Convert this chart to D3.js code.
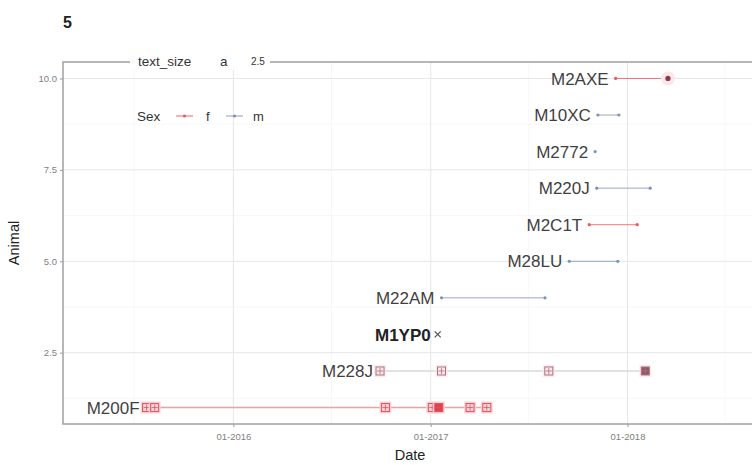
<!DOCTYPE html>
<html><head><meta charset="utf-8">
<script src="https://cdn.jsdelivr.net/npm/d3@7"></script>
<style>body{margin:0;background:#fff}svg{font-family:"Liberation Sans",Arial,sans-serif}</style>
</head><body><svg id="c" width="752" height="465"></svg>
<script>
// Animals (y position 1..10), sex, and observation dates
const animals = ["M200F","M228J","M1YP0","M22AM","M28LU","M2C1T","M220J","M2772","M10XC","M2AXE"];
const sexes   = ["f","f","m","m","m","f","m","m","m","f"];
const dates = [
  ["2015-07-24","2015-08-08","2016-10-09","2017-01-04","2017-01-16","2017-03-15","2017-04-15"],
  ["2016-09-29","2017-01-21","2017-08-08","2018-02-03"],
  ["2017-01-14"],
  ["2017-01-21","2017-08-01"],
  ["2017-09-15","2017-12-14"],
  ["2017-10-22","2018-01-19"],
  ["2017-11-05","2018-02-12"],
  ["2017-11-02"],
  ["2017-11-07","2017-12-16"],
  ["2017-12-10","2018-03-17"]
];
const xTicks = ["2016-01-01","2017-01-01","2018-01-01"];
const xMinor = ["2015-07-01","2016-07-01","2017-07-01","2018-07-01"];
const yTicks = [2.5,5.0,7.5,10.0];
const yMinor = [1.25,3.75,6.25,8.75];

const parse = d3.timeParse("%Y-%m-%d");
const svg = d3.select("#c");
const L=63, R=765, T=62, B=424;
const x = d3.scaleTime().domain([parse("2015-02-19"), parse("2018-09-13")]).range([L,R]);
const y = d3.scaleLinear().domain([0.55,10.45]).range([B,T]);
const col = {f:"#e8595c", m:"#7a93bd"};

// grid
const g = svg.append("g");
g.selectAll(".vmin").data(xMinor).join("line").attr("x1",d=>x(parse(d))).attr("x2",d=>x(parse(d)))
  .attr("y1",T).attr("y2",B).attr("stroke","#f2f2f2").attr("stroke-width",0.6);
g.selectAll(".hmin").data(yMinor).join("line").attr("y1",d=>y(d)).attr("y2",d=>y(d))
  .attr("x1",L).attr("x2",R).attr("stroke","#f2f2f2").attr("stroke-width",0.6);
g.selectAll(".vmaj").data(xTicks).join("line").attr("x1",d=>x(parse(d))).attr("x2",d=>x(parse(d)))
  .attr("y1",T).attr("y2",B).attr("stroke","#e6e6e6").attr("stroke-width",1);
g.selectAll(".hmaj").data(yTicks).join("line").attr("y1",d=>y(d)).attr("y2",d=>y(d))
  .attr("x1",L).attr("x2",R).attr("stroke","#e6e6e6").attr("stroke-width",1);

// axes
const xa = svg.append("g").attr("transform",`translate(0,${B})`)
  .call(d3.axisBottom(x).tickValues(xTicks.map(parse)).tickFormat(d3.timeFormat("%m-%Y")).tickSize(3));
const ya = svg.append("g").attr("transform",`translate(${L},0)`)
  .call(d3.axisLeft(y).tickValues(yTicks).tickFormat(d3.format(".1f")).tickSize(3));
[xa,ya].forEach(a=>{a.select(".domain").remove();a.selectAll("line").attr("stroke","#999");
  a.selectAll("text").attr("fill","#808080").style("font-size","9.5px");});
xa.selectAll("text").attr("dy","1.1em");

// panel border
svg.append("rect").attr("x",L).attr("y",T).attr("width",R-L).attr("height",B-T)
  .attr("fill","none").attr("stroke","#a0a0a0").attr("stroke-width",1.5);

// rows
const rows = animals.map((a,i)=>({a, sex:sexes[i], yi:i+1, ds:dates[i].map(parse)}));
const pg = svg.append("g");
rows.forEach(r=>{
  const x0 = x(d3.min(r.ds)), x1 = x(d3.max(r.ds)), yy = y(r.yi);
  if (r.ds.length>1) {
    const boxed = r.yi<=2;
    pg.append("line").attr("x1",x0).attr("x2",x1).attr("y1",yy).attr("y2",yy)
      .attr("stroke", r.yi===2 ? "#d8d8d8" : (r.yi===1 ? "#f2a0a2" : col[r.sex]))
      .attr("stroke-width", boxed ? 1.6 : 0.8);
  }
  if (r.yi<=2) {
    r.ds.forEach((d,k)=>{
      const cx = x(d);
      const last = r.yi===2 && k===r.ds.length-1;
      pg.append("rect").attr("x",cx-6).attr("y",yy-6).attr("width",12).attr("height",12)
        .attr("fill", r.yi===1 ? "#fbd0d2" : "#fce8ea").attr("opacity",0.9);
      pg.append("rect").attr("x",cx-4).attr("y",yy-4).attr("width",8).attr("height",8)
        .attr("fill", last ? "#8a5a6a" : (r.yi===1 && k===4 ? "#e04050" : "none"))
        .attr("stroke", r.yi===1 ? "#e05060" : "#b07080").attr("stroke-width",1);
      pg.append("path").attr("d",`M${cx-3},${yy}H${cx+3}M${cx},${yy-3}V${yy+3}`)
        .attr("stroke", r.yi===1 ? "#e05060" : "#b07080").attr("stroke-width",0.8);
    });
  } else if (r.yi===3) {
    const cx = x(r.ds[0]);
    pg.append("path").attr("d",`M${cx-3},${yy-3}L${cx+3},${yy+3}M${cx-3},${yy+3}L${cx+3},${yy-3}`)
      .attr("stroke","#555").attr("stroke-width",1.3);
  } else {
    r.ds.forEach((d,k)=>{
      const cx = x(d);
      const big = r.yi===10 && k===1;
      if (big) pg.append("circle").attr("cx",cx).attr("cy",yy).attr("r",7).attr("fill","#fde6ea");
      pg.append("circle").attr("cx",cx).attr("cy",yy).attr("r", big?2.6:1.6)
        .attr("fill", big ? "#8a3a50" : col[r.sex]);
    });
  }
  pg.append("text").attr("x",x0-7).attr("y",yy).attr("dy","0.36em").attr("text-anchor","end")
    .style("font-size","17px").attr("fill", r.yi===3 ? "#222" : "#3f3f3f")
    .style("font-weight", r.yi===3 ? "bold" : "normal").text(r.a);
});

// top legend (text_size)
svg.append("rect").attr("x",130).attr("y",52).attr("width",140).attr("height",18).attr("fill","#fff");
const tl = svg.append("g").style("font-size","13.5px").attr("fill","#333");
tl.append("text").attr("x",138).attr("y",61).attr("dy","0.35em").text("text_size");
tl.append("text").attr("x",220).attr("y",61).attr("dy","0.35em").text("a");
tl.append("text").attr("x",251).attr("y",61).attr("dy","0.35em").style("font-size","10px").text("2.5");

// sex legend
const sl = svg.append("g");
sl.append("text").attr("x",137).attr("y",116).attr("dy","0.35em").style("font-size","13.5px").attr("fill","#333").text("Sex");
[["f",176,206],["m",226,253]].forEach(([s,lx,tx])=>{
  sl.append("line").attr("x1",lx).attr("x2",lx+17).attr("y1",116).attr("y2",116).attr("stroke",col[s]).attr("stroke-width",0.9);
  sl.append("circle").attr("cx",lx+8.5).attr("cy",116).attr("r",1.6).attr("fill",col[s]);
  sl.append("text").attr("x",tx).attr("y",116).attr("dy","0.35em").style("font-size","13px").attr("fill","#333").text(s);
});

// titles
svg.append("text").attr("x",63).attr("y",28).style("font-size","16px").style("font-weight","bold").attr("fill","#222").text("5");
svg.append("text").attr("x",410).attr("y",460).attr("text-anchor","middle").style("font-size","14.5px").attr("fill","#222").text("Date");
svg.append("text").attr("transform",`translate(19,${(T+B)/2}) rotate(-90)`).attr("text-anchor","middle")
  .style("font-size","14.5px").attr("fill","#222").text("Animal");
</script></body></html>
